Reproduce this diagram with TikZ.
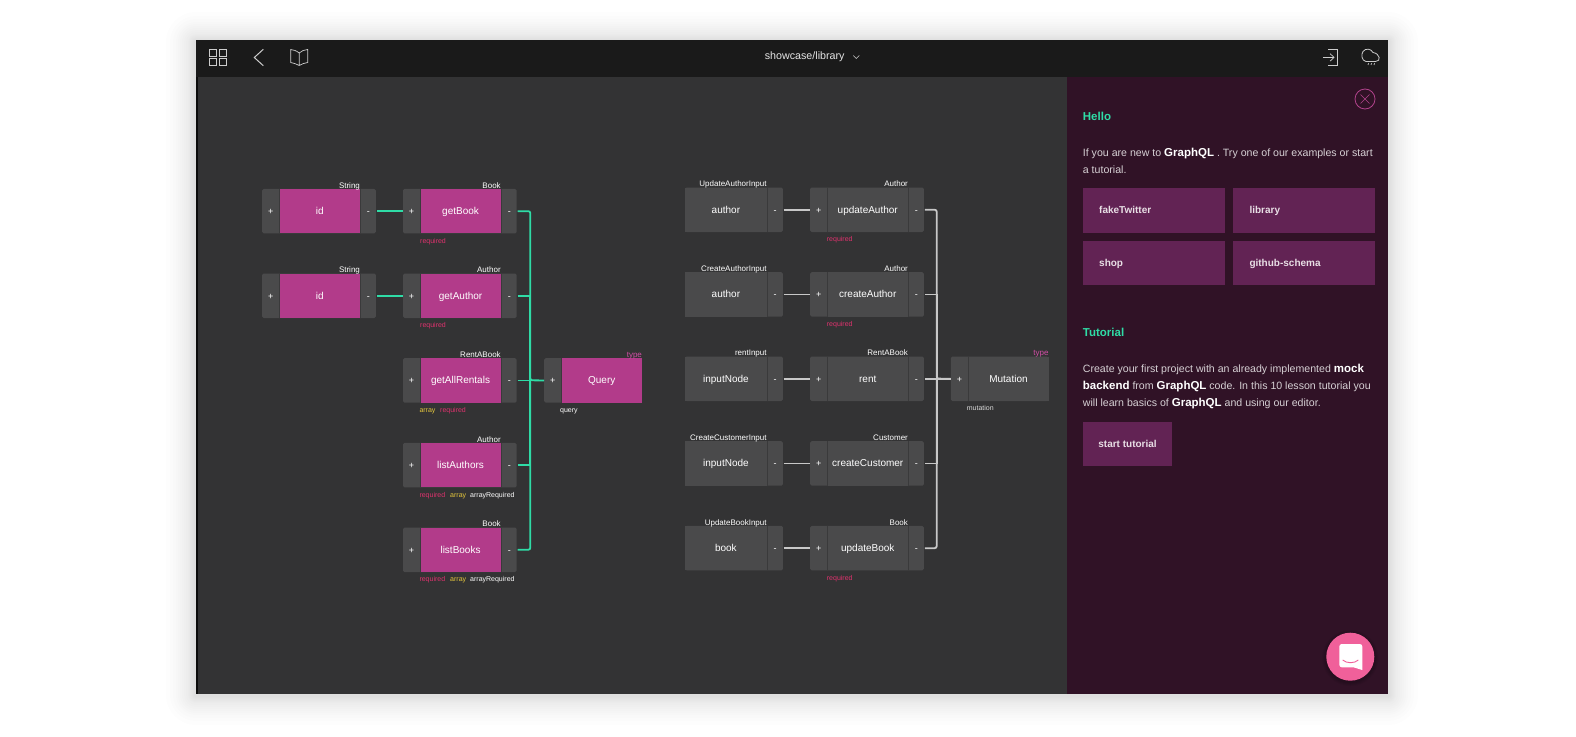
\documentclass[tikz,border=0pt]{standalone}
\usepackage{fontspec}
\setmainfont{Liberation Sans}
\definecolor{canvasbg}{HTML}{333334}
\definecolor{barbg}{HTML}{1A1A1A}
\definecolor{panelbg}{HTML}{301226}
\definecolor{btnbg}{HTML}{622354}
\definecolor{fieldpink}{HTML}{B23B8A}
\definecolor{tabgrey}{HTML}{4A4A4B}
\definecolor{linkgreen}{HTML}{2FDCA6}
\definecolor{linkgrey}{HTML}{C8C8C8}
\definecolor{notered}{HTML}{E0326E}
\definecolor{noteyellow}{HTML}{E6C83C}
\definecolor{typepink}{HTML}{D24FA6}
\definecolor{chatpink}{HTML}{F0609A}
\definecolor{icongrey}{HTML}{CCCCCC}
\tikzset{
  backbox/.style={rectangle,fill=tabgrey,rounded corners=1.5,minimum height=44.5,inner sep=0},
  tabbox/.style={rectangle,minimum height=44.5,inner sep=0,text=white,text height=8.6,text depth=2,font=\fontsize{9}{9}\selectfont},
  plustab/.style={tabbox,minimum width=17},
  minustab/.style={tabbox,minimum width=16.3},
  mainbox/.style={rectangle,minimum width=80.3,minimum height=44.5,inner sep=0,text=white,text height=9,text depth=2,font=\fontsize{10}{10}\selectfont},
  pinkbox/.style={mainbox,fill=fieldpink},
  greybox/.style={mainbox,fill=tabgrey},
  divider/.style={draw=canvasbg!70!tabgrey,line width=0.6},
  typelabel/.style={inner sep=0,text=white,text height=6,text depth=2,font=\fontsize{8}{8}\selectfont},
  notelabel/.style={inner sep=0,anchor=west,text height=7.6,text depth=2,font=\fontsize{7}{7}\selectfont},
  greenlink/.style={draw=linkgreen,line width=1.8,rounded corners=2},
  greylink/.style={draw=linkgrey,line width=1.8,rounded corners=2},
  headtext/.style={inner sep=0,anchor=west,text=linkgreen,font=\fontsize{11.5}{11.5}\selectfont\bfseries},
  bodytext/.style={inner sep=0,anchor=west,align=left,text=white!80!panelbg,font=\fontsize{10.6}{17}\selectfont},
  btnbox/.style={rectangle,fill=btnbg,anchor=north west,minimum width=142,minimum height=44.3,inner sep=0,text=white!85!btnbg,text height=9,text depth=2,font=\fontsize{10}{10}\selectfont\bfseries},
  icon/.style={draw=icongrey,line width=0.7},
}
\newcommand{\gqlbold}[1]{{\fontsize{11.5}{17}\selectfont\bfseries\color{white}#1}}
% one field: plus tab, name, minus tab and the type above it
\newcommand{\fieldbox}[6]{
  \node[backbox,minimum width=113.6,anchor=north west] (#1-bg) at (#2,#3) {};
  \node[plustab,anchor=north west] (#1-p) at (#2,#3) {+};
  \node[#4,anchor=north west] (#1) at (#1-p.north east) {#5};
  \node[minustab,anchor=north west] (#1-m) at (#1.north east) {-};
  \draw[divider] (#1.north west) -- (#1.south west) (#1.north east) -- (#1.south east);
  \node[typelabel,anchor=south east] (#1-t) at ([yshift=-1.5]#1.north east) {#6};
}
% input node, without the plus tab
\newcommand{\inputbox}[5]{
  \node[backbox,minimum width=97.7,anchor=north west] (#1-bg) at (#2,#3) {};
  \node[greybox,minimum width=81.4,anchor=north west] (#1) at (#2,#3) {#4};
  \node[minustab,anchor=north west] (#1-m) at (#1.north east) {-};
  \draw[divider] (#1.north east) -- (#1.south east);
  \node[typelabel,anchor=south east] (#1-t) at ([yshift=-1.5]#1.north east) {#5};
}
% root type, only a plus tab
\newcommand{\typebox}[5]{
  \node[backbox,minimum width=97.3,anchor=north west] (#1-bg) at (#2,#3) {};
  \node[plustab,anchor=north west] (#1-p) at (#2,#3) {+};
  \node[#4,anchor=north west] (#1) at (#1-p.north east) {#5};
  \draw[divider] (#1.north west) -- (#1.south west);
  \node[typelabel,text=typepink,anchor=south east] (#1-t) at ([yshift=-1.5]#1.north east) {type};
}
\begin{document}
\begin{tikzpicture}[x=1pt,y=-1pt]
\useasboundingbox (0,0) rectangle (1576,736);
\fill[white] (0,0) rectangle (1576,736);
% soft shadow round the window
\foreach \s in {30,26,23,20,18,16,14,12,10,8,7,6,5,4,3,2}
  \fill[black,opacity=0.009,rounded corners=\s pt] (196-\s,42-\s) rectangle (1388+\s,695+\s);

% window
\fill[canvasbg] (196,40) rectangle (1067,694);
\fill[black!75!canvasbg] (196,40) rectangle (198,694);
\fill[panelbg] (1067,77) rectangle (1388,694);
\fill[barbg] (196,40) rectangle (1388,77);

% top bar, left icons
\draw[icon] (209.7,49.3) rectangle (216.8,56.5);
\draw[icon] (218.9,49.3) rectangle (226,56.5);
\draw[icon] (209.7,58.6) rectangle (216.8,65.7);
\draw[icon] (218.9,58.6) rectangle (226,65.7);
\draw[icon,line width=1] (263.3,49.3) -- (254.3,57.5) -- (263.3,65.7);
\draw[icon] (299.2,53) -- (299.2,65.5) (299.2,53) .. controls (296,50.5) and (294,50) .. (290.7,49.5) -- (290.7,62.5) .. controls (294,63) and (296,64) .. (299.2,65.5) .. controls (302,64) and (304,63) .. (307.7,62.5) -- (307.7,49.5) .. controls (304,50) and (302,50.5) .. (299.2,53);

\node[inner sep=0,text=white!90!black,text height=8,text depth=2,font=\fontsize{10.7}{10.7}\selectfont] (title) at (804.7,56) {showcase/library};
\draw[icon,line width=0.6] (853.3,55.5) -- (856.3,58.5) -- (859.3,55.5);

% top bar, right icons
\draw[icon] (1328,49.3) -- (1337.3,49.3) -- (1337.3,65.7) -- (1328,65.7);
\draw[icon] (1323,57.4) -- (1334,57.4) (1330,53.6) -- (1334,57.4) -- (1330,61.2);
\draw[icon,line width=0.8] (1375.5,61.5) -- (1366,61.5) .. controls (1361.5,61) and (1361,54) .. (1363,51.5) .. controls (1365.5,48) and (1371,48.5) .. (1373,52.5) .. controls (1380,53.5) and (1381.5,61.5) .. (1375.5,61.5);
\draw[icon,line width=0.7] (1368.5,63.2) -- (1368,65) (1371.5,63.2) -- (1371,65) (1374.5,63.2) -- (1374,65);

% Query side
\fieldbox{idBook}{262}{188.7}{pinkbox}{id}{String}
\fieldbox{idAuthor}{262}{273.3}{pinkbox}{id}{String}
\foreach \nm/\ytop/\typ in {getBook/188.7/Book,getAuthor/273.3/Author,getAllRentals/358/RentABook,listAuthors/442.7/Author,listBooks/527.3/Book}{
  \fieldbox{\nm}{402.8}{\ytop}{pinkbox}{\nm}{\typ}
}

\typebox{Query}{544}{358}{pinkbox}{Query}
\node[notelabel,text=white] (Query-n) at (560,409.7) {query};

\node[notelabel,text=notered] (getBook-r) at (420,240.3) {required};
\node[notelabel,text=notered] (getAuthor-r) at (420,325) {required};
\node[notelabel,text=noteyellow] (getAllRentals-a) at (419.3,409.7) {array};
\node[notelabel,text=notered] (getAllRentals-r) at (440,409.7) {required};
\foreach \nm/\ybase in {listAuthors/494.3,listBooks/579}{
  \node[notelabel,text=notered] (\nm-r) at (419.3,\ybase) {required};
  \node[notelabel,text=noteyellow] (\nm-a) at (450,\ybase) {array};
  \node[notelabel,text=white] (\nm-q) at (470,\ybase) {arrayRequired};
}

% Query links
\coordinate (querybus) at (530.3,380.3);
\draw[greenlink] (idBook-m.east) -- (getBook-p.west);
\draw[greenlink] (idAuthor-m.east) -- (getAuthor-p.west);
\draw[greenlink] (getBook-m.east) -| (querybus) -- (Query-p.west);
\draw[greenlink] (listBooks-m.east) -| (querybus);
\draw[greenlink] (getAllRentals-m.east) -- (Query-p.west);
\draw[greenlink,sharp corners] (getAuthor-m.east) -| (querybus);
\draw[greenlink,sharp corners] (listAuthors-m.east) -| (querybus);

% Mutation side
\foreach \nm/\lbl/\ytop/\typ in {inA/author/187.3/UpdateAuthorInput,inB/author/272/CreateAuthorInput,inC/inputNode/356.3/rentInput,inD/inputNode/441/CreateCustomerInput,inE/book/525.7/UpdateBookInput}{
  \inputbox{\nm}{685}{\ytop}{\lbl}{\typ}
}
\foreach \nm/\ytop/\typ in {updateAuthor/187.3/Author,createAuthor/272/Author,rent/356.3/RentABook,createCustomer/441/Customer,updateBook/525.7/Book}{
  \fieldbox{\nm}{810}{\ytop}{greybox}{\nm}{\typ}
}

\typebox{Mutation}{950.7}{356.3}{greybox}{Mutation}
\node[notelabel,text=white!85!black] (Mutation-n) at (966.7,408) {mutation};

\node[notelabel,text=notered] (updateAuthor-r) at (826.7,239) {required};
\node[notelabel,text=notered] (createAuthor-r) at (826.7,323.7) {required};
\node[notelabel,text=notered] (updateBook-r) at (826.7,577.5) {required};

% Mutation links
\coordinate (mutbus) at (936.7,378.6);
\draw[greylink] (inA-m.east) -- (updateAuthor-p.west);
\draw[greylink] (inB-m.east) -- (createAuthor-p.west);
\draw[greylink] (inC-m.east) -- (rent-p.west);
\draw[greylink] (inD-m.east) -- (createCustomer-p.west);
\draw[greylink] (inE-m.east) -- (updateBook-p.west);
\draw[greylink] (updateAuthor-m.east) -| (mutbus) -- (Mutation-p.west);
\draw[greylink] (updateBook-m.east) -| (mutbus);
\draw[greylink] (rent-m.east) -- (Mutation-p.west);
\draw[greylink,sharp corners] (createAuthor-m.east) -| (mutbus);
\draw[greylink,sharp corners] (createCustomer-m.east) -| (mutbus);

% side panel
\draw[draw=typepink!80!panelbg,line width=0.8] (1365,99) circle (10);
\draw[draw=typepink!80!panelbg,line width=0.6] (1360.5,94.5) -- (1369.5,103.5) (1360.5,103.5) -- (1369.5,94.5);

\node[headtext] (hello) at (1082.7,116) {Hello};
\node[bodytext] (intro) at (1082.7,161) {If you are new to \gqlbold{GraphQL} . Try one of our examples or start\\a tutorial.};
\foreach \nm/\xx/\yy/\lbl in {btnA/1082.7/188/fakeTwitter,btnB/1233/188/library,btnC/1082.7/240.7/shop,btnD/1233/240.7/github-schema}{
  \node[btnbox] (\nm) at (\xx,\yy) {};
  \node[inner sep=0,anchor=west,text=white!85!btnbg,text height=9,text depth=2,font=\fontsize{10}{10}\selectfont\bfseries] (\nm-l) at ([xshift=16.3]\nm.west) {\lbl};
}

\node[headtext] (tutorial) at (1082.7,332.7) {Tutorial};
\node[bodytext] (howto) at (1082.7,386.5) {Create your first project with an already implemented \gqlbold{mock}\\\gqlbold{backend} from \gqlbold{GraphQL} code. In this 10 lesson tutorial you\\will learn basics of \gqlbold{GraphQL} and using our editor.};
\node[btnbox,minimum width=89.3,minimum height=44] (startbtn) at (1082.7,421.7) {start tutorial};

% chat button
\foreach \r in {28,27,26,25}
  \fill[black,opacity=0.05] (1350.3,658) circle (\r);
\node[circle,fill=chatpink,minimum size=48,inner sep=0] (chat) at (1350.3,656.7) {};
\fill[white,rounded corners=2.5] (1339.3,644) -- (1362.3,644) -- (1362.3,662) [sharp corners] -- (1362.3,670) -- (1353.5,667.3) [rounded corners=2.5] -- (1339.3,667.3) -- cycle;
\draw[chatpink,line width=0.9] (1342.7,660) .. controls (1346.5,663.6) and (1354.5,663.6) .. (1358.3,660);
\end{tikzpicture}
\end{document}
